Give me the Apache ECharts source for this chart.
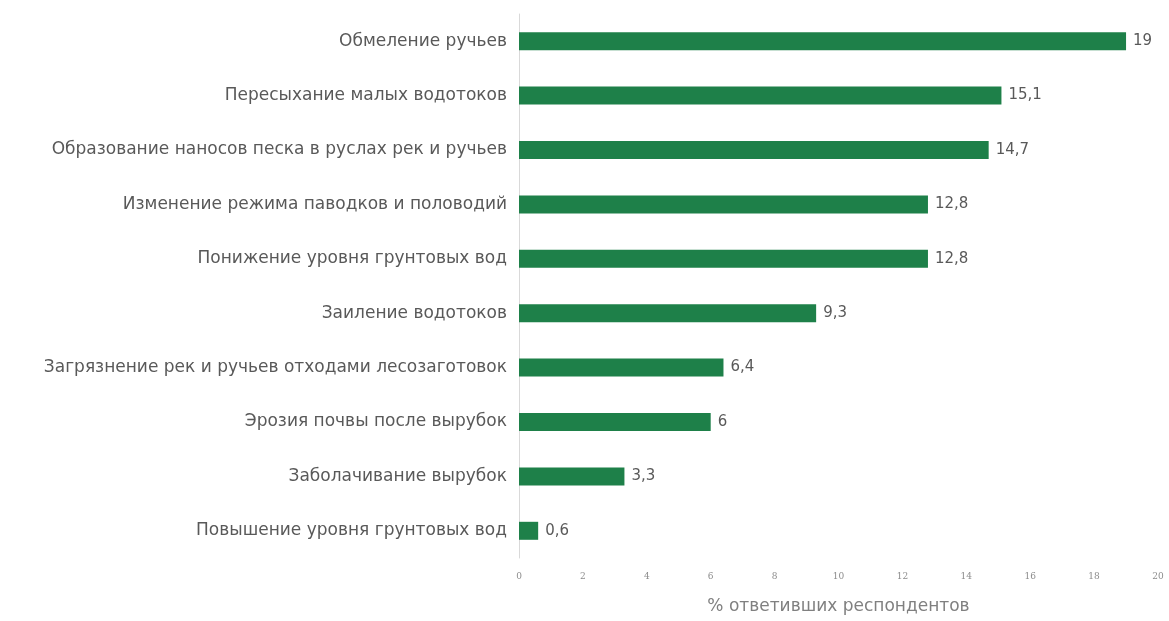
<!DOCTYPE html>
<html>
<head>
<meta charset="utf-8">
<script src="https://cdn.jsdelivr.net/npm/echarts@6/dist/echarts.min.js"></script>
<style>
  html, body { margin: 0; padding: 0; background: #fff; }
  #chart { width: 1169px; height: 621px; }
</style>
</head>
<body>
<div id="chart"></div>
<script>
// категории сверху вниз
var categories = [
  'Обмеление ручьев',
  'Пересыхание малых водотоков',
  'Образование наносов песка в руслах рек и ручьев',
  'Изменение режима паводков и половодий',
  'Понижение уровня грунтовых вод',
  'Заиление водотоков',
  'Загрязнение рек и ручьев отходами лесозаготовок',
  'Эрозия почвы после вырубок',
  'Заболачивание вырубок',
  'Повышение уровня грунтовых вод'
];
var values = [19, 15.1, 14.7, 12.8, 12.8, 9.3, 6.4, 6, 3.3, 0.6];
var xTicks = [0, 2, 4, 6, 8, 10, 12, 14, 16, 18, 20];

var chart = echarts.init(document.getElementById('chart'));

var option = {
  backgroundColor: '#ffffff',
  animation: false,
  grid: {
    left: 519,
    right: 11,
    top: 14,
    bottom: 63
  },
  xAxis: {
    type: 'value',
    min: xTicks[0],
    max: xTicks[xTicks.length - 1],
    interval: 2,
    name: '% ответивших респондентов',
    nameLocation: 'middle',
    nameGap: 40,
    nameTextStyle: {
      color: '#808080',
      fontSize: 17,
      fontFamily: 'DejaVu Sans'
    },
    axisLine: { show: false },
    axisTick: { show: false },
    splitLine: { show: false },
    axisLabel: {
      color: '#8c8c8c',
      fontSize: 9,
      fontFamily: 'DejaVu Serif',
      margin: 14
    }
  },
  yAxis: {
    type: 'category',
    data: categories,
    inverse: true,
    axisLine: {
      lineStyle: { color: '#d9d9d9', width: 1 }
    },
    axisTick: { show: false },
    axisLabel: {
      color: '#595959',
      fontSize: 17,
      fontFamily: 'DejaVu Sans',
      margin: 12
    }
  },
  series: [
    {
      type: 'bar',
      data: values,
      barWidth: 18,
      itemStyle: { color: '#1e8049' },
      label: {
        show: true,
        position: 'right',
        distance: 7,
        color: '#595959',
        fontSize: 15,
        fontFamily: 'DejaVu Sans',
        formatter: function (p) {
          return String(p.value).replace('.', ',');
        }
      }
    }
  ]
};

chart.setOption(option);
</script>
</body>
</html>
